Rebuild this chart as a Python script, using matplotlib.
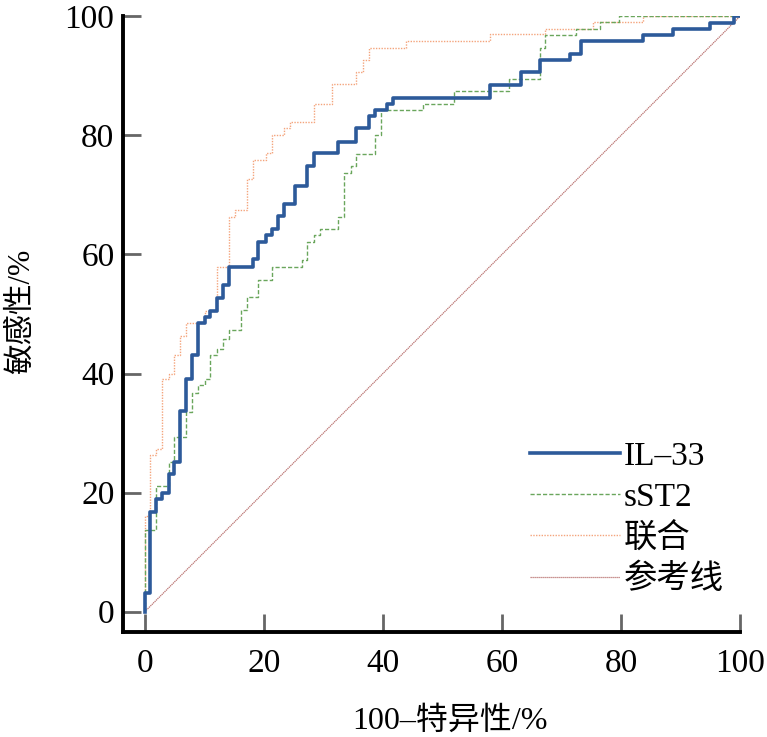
import matplotlib
matplotlib.use('Agg')
import matplotlib.pyplot as plt

# ROC step vertices (100-specificity %, sensitivity %)
il33_x = [0, 0, 0.8, 0.8, 1.9, 1.9, 2.9, 2.9, 4.0, 4.0, 4.9, 4.9, 5.9, 5.9,
          7.0, 7.0, 7.9, 7.9, 9.0, 9.0, 10.1, 10.1, 11.0, 11.0, 12.1, 12.1,
          13.1, 13.1, 14.2, 14.2, 18.1, 18.1, 19.1, 19.1, 20.3, 20.3, 21.3, 21.3,
          22.4, 22.4, 23.4, 23.4, 25.3, 25.3, 27.3, 27.3, 28.4, 28.4, 32.5, 32.5,
          35.5, 35.5, 37.6, 37.6, 38.7, 38.7, 40.7, 40.7, 41.7, 41.7, 58.0, 58.0,
          63.2, 63.2, 66.3, 66.3, 71.4, 71.4, 73.3, 73.3, 83.6, 83.6, 88.8, 88.8,
          95.0, 95.0, 98.9, 98.9, 100]
il33_y = [0, 3.2, 3.2, 16.8, 16.8, 19.0, 19.0, 20.0, 20.0, 23.2, 23.2, 25.2, 25.2,
          33.7, 33.7, 39.1, 39.1, 43.1, 43.1, 48.5, 48.5, 49.5, 49.5, 50.5, 50.5,
          52.7, 52.7, 54.9, 54.9, 57.9, 57.9, 59.2, 59.2, 62.1, 62.1, 63.3, 63.3,
          64.3, 64.3, 66.4, 66.4, 68.5, 68.5, 71.5, 71.5, 74.9, 74.9, 77.0, 77.0,
          78.9, 78.9, 81.2, 81.2, 83.2, 83.2, 84.3, 84.3, 85.3, 85.3, 86.3, 86.3,
          88.5, 88.5, 90.6, 90.6, 92.7, 92.7, 93.7, 93.7, 95.9, 95.9, 96.9, 96.9,
          97.9, 97.9, 98.9, 98.9, 100, 100]

sst2_x = [0, 0, 1.9, 1.9, 4.0, 4.0, 4.9, 4.9, 7.0, 7.0, 7.9, 7.9, 9.0, 9.0,
          10.1, 10.1, 11.0, 11.0, 12.2, 12.2, 13.2, 13.2, 14.2, 14.2, 16.1, 16.1,
          17.1, 17.1, 19.1, 19.1, 21.3, 21.3, 26.4, 26.4, 27.3, 27.3, 28.4, 28.4,
          29.4, 29.4, 32.5, 32.5, 33.5, 33.5, 34.6, 34.6, 35.5, 35.5, 38.7, 38.7,
          39.7, 39.7, 46.8, 46.8, 51.9, 51.9, 61.2, 61.2, 66.3, 66.3, 67.3, 67.3,
          72.4, 72.4, 76.5, 76.5, 79.6, 79.6, 100]
sst2_y = [0, 13.8, 13.8, 21.1, 21.1, 25.2, 25.2, 29.4, 29.4, 33.6, 33.6, 36.8,
          36.8, 38.1, 38.1, 39.0, 39.0, 43.1, 43.1, 44.2, 44.2, 45.8, 45.8, 47.3,
          47.3, 50.7, 50.7, 52.8, 52.8, 55.7, 55.7, 57.9, 57.9, 59.1, 59.1, 62.1,
          62.1, 63.3, 63.3, 64.3, 64.3, 66.3, 66.3, 73.6, 73.6, 74.8, 74.8, 76.8,
          76.8, 80.0, 80.0, 84.3, 84.3, 85.3, 85.3, 87.4, 87.4, 89.5, 89.5, 94.7,
          94.7, 96.9, 96.9, 97.9, 97.9, 99.0, 99.0, 100, 100]

comb_x = [0, 0, 0.8, 0.8, 1.9, 1.9, 2.9, 2.9, 4.0, 4.0, 4.9, 4.9, 5.9, 5.9,
          7.0, 7.0, 10.1, 10.1, 12.2, 12.2, 14.2, 14.2, 15.2, 15.2, 17.1, 17.1,
          18.1, 18.1, 20.3, 20.3, 21.3, 21.3, 23.4, 23.4, 24.4, 24.4, 28.4, 28.4,
          31.5, 31.5, 35.5, 35.5, 36.6, 36.6, 37.6, 37.6, 43.8, 43.8, 58.0, 58.0,
          67.3, 67.3, 75.3, 75.3, 83.7, 83.7, 100]
comb_y = [0, 16.0, 16.0, 26.3, 26.3, 27.3, 27.3, 39.0, 39.0, 40.0, 40.0, 43.1,
          43.1, 46.3, 46.3, 48.5, 48.5, 50.5, 50.5, 57.9, 57.9, 66.3, 66.3, 67.4,
          67.4, 72.7, 72.7, 75.8, 75.8, 77.0, 77.0, 80.0, 80.0, 81.2, 81.2, 82.3,
          82.3, 85.3, 85.3, 88.6, 88.6, 90.7, 90.7, 92.7, 92.7, 94.7, 94.7, 95.9,
          95.9, 97.0, 97.0, 97.9, 97.9, 99.0, 99.0, 100, 100]

ref_x = [0, 100]
ref_y = [0, 100]

labels = ['IL\u201333', 'sST2', '联合', '参考线']
ticks = [0, 20, 40, 60, 80, 100]

fonts = ['Liberation Serif', 'Noto Sans CJK SC', 'DejaVu Sans']
plt.rcParams['font.family'] = fonts

fig = plt.figure(figsize=(7.67, 7.37), dpi=100)
ax = fig.add_axes([0.160, 0.1425, 0.805, 0.8355])

ax.plot(il33_x, il33_y, color='#2d5a9a', lw=2.6, label=labels[0], zorder=5)
ax.plot(sst2_x, sst2_y, color='#6aa65c', lw=1.0, ls=(0, (3, 1.5)), label=labels[1], zorder=4)
ax.plot(comb_x, comb_y, color='#f4a47c', lw=1.0, ls=(0, (1, 1)), label=labels[2], zorder=3)
ax.plot(ref_x, ref_y, color='#b8706e', lw=0.9, ls=(0, (1, 0.6)), label=labels[3], zorder=2)

ax.set_xlim(-3.7, 100)
ax.set_ylim(-3.4, 100)
ax.set_xticks(ticks)
ax.set_yticks(ticks)

for s in ['top', 'right']:
    ax.spines[s].set_visible(False)
for s in ['left', 'bottom']:
    ax.spines[s].set_linewidth(2.8)
    ax.spines[s].set_color('black')

ax.tick_params(direction='in', length=13, width=2, color='#666666',
               labelsize=24, pad=6)
ax.tick_params(axis='x', pad=12)
for lab in ax.get_xticklabels() + ax.get_yticklabels():
    lab.set_family('Liberation Serif')

ax.set_xlabel('100\u2013特异性/%', fontsize=23)
ax.xaxis.set_label_coords(0.530, -0.120)
ax.set_ylabel('敏感性/%', fontsize=22)
ax.yaxis.set_label_coords(-0.140, 0.521)

leg = ax.legend(loc='lower right', bbox_to_anchor=(0.995, 0.038), frameon=False,
                fontsize=24, handlelength=2.7, handletextpad=0.1,
                labelspacing=0.3, borderaxespad=0)

fig.savefig('out.png', dpi=100)
